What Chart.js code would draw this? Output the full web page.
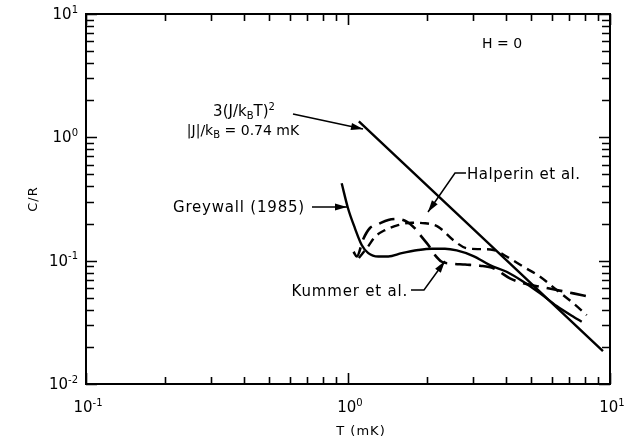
<!DOCTYPE html>
<html>
<head>
<meta charset="utf-8">
<title>C/R vs T</title>
<script src="https://cdn.jsdelivr.net/npm/chart.js@4.4.1/dist/chart.umd.min.js"></script>
<style>
  html, body { margin: 0; padding: 0; background: #fff; }
  canvas { display: block; }
</style>
</head>
<body>
<canvas id="heatChart" width="634" height="440"></canvas>
<script>
/* =========================
   DATA  (T in mK, C/R)
========================= */
const theoryT = [1.1, 9.4];
const theoryC = [1.35, 0.0185];

const greywallT = [0.946, 1.0, 1.063, 1.128, 1.195, 1.305, 1.425, 1.603, 1.855, 2.087, 2.345, 2.6, 3.01, 3.48, 4.03, 4.67, 5.41, 6.26, 7.25, 7.8];
const greywallC = [0.424, 0.266, 0.183, 0.134, 0.115, 0.108, 0.108, 0.115, 0.122, 0.125, 0.125, 0.121, 0.109, 0.092, 0.0813, 0.0675, 0.0543, 0.0429, 0.0351, 0.032];

const halperinT = [1.1, 1.192, 1.268, 1.384, 1.552, 1.75, 1.967, 2.21, 2.52, 2.84, 3.19, 3.59, 4.03, 4.67, 5.41, 6.26, 7.25, 8.15];
const halperinC = [0.105, 0.13, 0.156, 0.177, 0.194, 0.203, 0.201, 0.188, 0.147, 0.126, 0.124, 0.122, 0.108, 0.0893, 0.0741, 0.0578, 0.0451, 0.0362];

const kummerT = [1.05, 1.08, 1.144, 1.213, 1.305, 1.425, 1.534, 1.675, 1.801, 1.911, 2.025, 2.148, 2.28, 2.45, 2.8, 3.19, 3.59, 4.15, 4.67, 5.41, 6.26, 7.25, 8.15];
const kummerC = [0.118, 0.108, 0.15, 0.184, 0.198, 0.214, 0.218, 0.207, 0.183, 0.156, 0.134, 0.111, 0.098, 0.095, 0.093, 0.091, 0.0867, 0.0719, 0.0655, 0.0615, 0.0578, 0.0543, 0.0516];

// decade ticks and their exponent labels
const xDecades = [0.1, 1, 10];
const xExponents = ["-1", "0", "1"];
const yDecades = [0.01, 0.1, 1, 10];
const yExponents = ["-2", "-1", "0", "1"];

const FONT = '"DejaVu Sans", sans-serif';

function points(ts, cs) {
  return ts.map((t, i) => ({ x: t, y: cs[i] }));
}

function curve(ts, cs, dash, width) {
  return {
    data: points(ts, cs),
    showLine: true,
    borderColor: "#000",
    borderWidth: width,
    borderDash: dash,
    pointRadius: 0,
    cubicInterpolationMode: "monotone",
    fill: false
  };
}

/* =========================
   TEXT HELPERS
========================= */
// parts: [text, shift] with shift 1 = superscript, -1 = subscript
function richText(ctx, parts, x, y, size, align, spacing) {
  const small = Math.round(size * 0.68);
  ctx.letterSpacing = (spacing || 0) + "px";
  let w = 0;
  parts.forEach(p => {
    ctx.font = (p[1] ? small : size) + "px " + FONT;
    w += ctx.measureText(p[0]).width;
  });
  let cx = align === "center" ? x - w / 2 : align === "right" ? x - w : x;
  ctx.textAlign = "left";
  ctx.textBaseline = "alphabetic";
  parts.forEach(p => {
    ctx.font = (p[1] ? small : size) + "px " + FONT;
    const dy = p[1] > 0 ? -size * 0.42 : p[1] < 0 ? size * 0.2 : 0;
    ctx.fillText(p[0], cx, y + dy);
    cx += ctx.measureText(p[0]).width;
  });
  ctx.letterSpacing = "0px";
}

function arrow(ctx, pts) {
  ctx.beginPath();
  ctx.moveTo(pts[0][0], pts[0][1]);
  for (let i = 1; i < pts.length; i++) ctx.lineTo(pts[i][0], pts[i][1]);
  ctx.stroke();
  const [ax, ay] = pts[pts.length - 2];
  const [bx, by] = pts[pts.length - 1];
  const a = Math.atan2(by - ay, bx - ax);
  const len = 12, half = 3.5;
  ctx.beginPath();
  ctx.moveTo(bx, by);
  ctx.lineTo(bx - len * Math.cos(a) + half * Math.sin(a), by - len * Math.sin(a) - half * Math.cos(a));
  ctx.lineTo(bx - len * Math.cos(a) - half * Math.sin(a), by - len * Math.sin(a) + half * Math.cos(a));
  ctx.closePath();
  ctx.fill();
}

/* =========================
   FRAME, TICKS, LABELS
========================= */
const framePlugin = {
  id: "frame",
  afterDraw(chart) {
    const { ctx, chartArea: a, scales } = chart;
    const xs = scales.x, ys = scales.y;
    ctx.save();
    ctx.strokeStyle = "#000";
    ctx.fillStyle = "#000";

    ctx.lineWidth = 2;
    ctx.strokeRect(a.left, a.top, a.right - a.left, a.bottom - a.top);

    ctx.lineWidth = 1.6;
    // x ticks, bottom and top
    xDecades.forEach(d => {
      for (let k = 1; k <= 9; k++) {
        const v = d * k;
        if (v > 10.0001) break;
        const px = Math.round(xs.getPixelForValue(v)) + 0.5;
        const len = k === 1 ? 11 : 7;
        ctx.beginPath();
        ctx.moveTo(px, a.bottom); ctx.lineTo(px, a.bottom - len);
        ctx.moveTo(px, a.top); ctx.lineTo(px, a.top + len);
        ctx.stroke();
      }
    });
    // y ticks, left and right
    yDecades.forEach(d => {
      for (let k = 1; k <= 9; k++) {
        const v = d * k;
        if (v > 10.0001) break;
        const py = Math.round(ys.getPixelForValue(v)) + 0.5;
        const len = k === 1 ? 11 : 8;
        ctx.beginPath();
        ctx.moveTo(a.left, py); ctx.lineTo(a.left + len, py);
        ctx.moveTo(a.right, py); ctx.lineTo(a.right - len, py);
        ctx.stroke();
      }
    });

    // tick labels
    xDecades.forEach((d, i) => {
      richText(ctx, [["10", 0], [xExponents[i], 1]], xs.getPixelForValue(d) + 2, a.bottom + 28, 15, "center");
    });
    yDecades.forEach((d, i) => {
      richText(ctx, [["10", 0], [yExponents[i], 1]], a.left - 8, ys.getPixelForValue(d) + 5, 15, "right");
    });

    // axis titles
    richText(ctx, [["T (mK)", 0]], 361, 435, 13, "center", 1);
    ctx.save();
    ctx.translate(37, 199);
    ctx.rotate(-Math.PI / 2);
    richText(ctx, [["C/R", 0]], 0, 0, 13, "center", 1);
    ctx.restore();
    ctx.restore();
  }
};

/* =========================
   ANNOTATIONS
========================= */
const notesPlugin = {
  id: "notes",
  afterDraw(chart) {
    const { ctx } = chart;
    ctx.save();
    ctx.fillStyle = "#000";
    ctx.strokeStyle = "#000";
    ctx.lineWidth = 1.5;

    richText(ctx, [["H = 0", 0]], 502, 48, 14, "center");

    richText(ctx, [["3(J/k", 0], ["B", -1], ["T)", 0], ["2", 1]], 244, 116, 15, "center");
    richText(ctx, [["|J|/k", 0], ["B", -1], [" = 0.74 mK", 0]], 243, 135, 14, "center");
    arrow(ctx, [[293, 114], [363, 129]]);

    richText(ctx, [["Greywall (1985)", 0]], 305, 212, 15, "right", 0.8);
    arrow(ctx, [[312, 207], [347, 207]]);

    richText(ctx, [["Halperin et al.", 0]], 467, 179, 15, "left", 0.5);
    arrow(ctx, [[466, 173], [455, 173], [428, 212]]);

    richText(ctx, [["Kummer et al.", 0]], 408, 296, 15, "right", 0.8);
    arrow(ctx, [[411, 290], [424, 290], [445, 261]]);

    ctx.restore();
  }
};

/* =========================
   CHART
========================= */
new Chart(document.getElementById("heatChart"), {
  type: "scatter",
  data: {
    datasets: [
      curve(theoryT, theoryC, [], 2.4),
      curve(greywallT, greywallC, [], 2.4),
      curve(halperinT, halperinC, [9, 6], 2.4),
      curve(kummerT, kummerC, [16, 8], 2.6)
    ]
  },
  options: {
    responsive: false,
    animation: false,
    layout: { padding: { left: 86, right: 24, top: 14, bottom: 56 } },
    plugins: {
      legend: { display: false },
      tooltip: { enabled: false }
    },
    scales: {
      x: { type: "logarithmic", min: 0.1, max: 10, display: false },
      y: { type: "logarithmic", min: 0.01, max: 10, display: false }
    }
  },
  plugins: [framePlugin, notesPlugin]
});
</script>
</body>
</html>
